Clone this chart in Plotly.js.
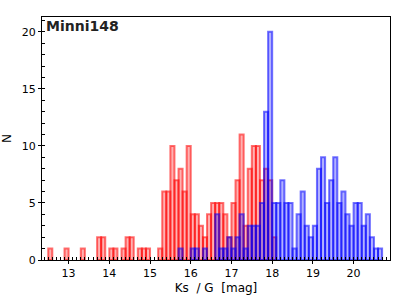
<!DOCTYPE html>
<html>
<head>
<meta charset="utf-8">
<script src="https://cdn.plot.ly/plotly-3.0.1.min.js"></script>
<style>
html,body{margin:0;padding:0;background:#fff;}
#chart{width:400px;height:300px;}
</style>
</head>
<body>
<div id="chart"></div>
<script>
// Bin centres (mag) and counts, bin width 0.1 mag
const redBins = [12.55,12.95,13.35,13.75,13.85,14.05,14.15,14.35,14.45,14.55,14.75,14.85,14.95,15.25,15.35,15.45,15.55,15.65,15.75,15.85,15.95,16.05,16.15,16.25,16.35,16.45,16.55,16.65,16.75,16.85,16.95,17.05,17.15,17.25,17.35,17.45,17.55,17.65,17.75,17.85,17.95,18.05];
const redCounts = [1,1,1,2,2,1,1,1,2,2,1,1,1,1,6,6,10,7,8,6,10,4,4,3,2,4,5,5,5,4,2,5,7,11,3,8,10,10,7,8,7,2];

const blueBins = [15.75,16.05,16.15,16.35,16.65,16.75,16.85,16.95,17.05,17.15,17.25,17.35,17.45,17.55,17.65,17.75,17.85,17.95,18.05,18.15,18.25,18.35,18.45,18.55,18.65,18.75,18.85,18.95,19.05,19.15,19.25,19.35,19.45,19.55,19.65,19.75,19.85,19.95,20.05,20.15,20.25,20.35,20.45,20.55,20.65];
const blueCounts = [1,1,1,1,4,1,1,2,1,2,4,1,3,3,3,5,13,20,5,5,7,5,5,1,4,6,3,2,3,8,9,5,7,9,5,6,4,3,5,5,3,4,2,1,1];

const binWidth = 0.1;
const xTickStep = 1;
const yTickStep = 5;
const titleText = 'Minni148';
const xTitleText = 'Ks\u00a0\u00a0/ G\u00a0\u00a0[mag]';
const yTitleText = 'N';

const traces = [
  {
    type: 'bar', x: redBins, y: redCounts, width: binWidth,
    marker: {color: 'rgba(255,0,0,0.3)', line: {color: 'rgba(255,0,0,0.55)', width: 2}},
    hoverinfo: 'none'
  },
  {
    type: 'bar', x: blueBins, y: blueCounts, width: binWidth,
    marker: {color: 'rgba(0,0,255,0.3)', line: {color: 'rgba(0,0,255,0.55)', width: 2}},
    hoverinfo: 'none'
  }
];

const fontFam = 'DejaVu Sans, Liberation Sans, sans-serif';

const layout = {
  width: 400, height: 300,
  margin: {l: 42, r: 10, t: 17, b: 40, pad: 0},
  paper_bgcolor: '#fff', plot_bgcolor: '#fff',
  barmode: 'overlay', bargap: 0,
  showlegend: false,
  font: {family: fontFam, size: 11, color: '#000'},
  xaxis: {
    range: [12.347, 20.894],
    tickmode: 'linear', tick0: 13, dtick: xTickStep,
    ticks: 'outside', ticklen: 3, tickwidth: 1, tickcolor: '#000',
    minor: {tick0: 0, dtick: 0.1, ticks: 'inside', ticklen: 3, tickwidth: 1, tickcolor: '#000', showgrid: false},
    showline: true, linecolor: '#000', linewidth: 1, mirror: true,
    showgrid: false, zeroline: false,
    tickfont: {family: fontFam, size: 11, color: '#000'},
    title: {text: xTitleText, font: {family: fontFam, size: 12, color: '#000'}, standoff: 4}
  },
  yaxis: {
    range: [0, 21.3],
    tickmode: 'linear', tick0: 0, dtick: yTickStep,
    ticks: 'outside', ticklen: 3, tickwidth: 1, tickcolor: '#000',
    minor: {tick0: 0, dtick: 1, ticks: 'inside', ticklen: 3, tickwidth: 1, tickcolor: '#000', showgrid: false},
    showline: true, linecolor: '#000', linewidth: 1, mirror: true,
    showgrid: false, zeroline: false,
    tickfont: {family: fontFam, size: 11, color: '#000'},
    title: {text: yTitleText, font: {family: fontFam, size: 12, color: '#000'}, standoff: 7}
  },
  annotations: [{
    text: '<b>' + titleText + '</b>',
    xref: 'paper', yref: 'paper', x: 0, y: 1,
    xanchor: 'left', yanchor: 'top', showarrow: false,
    xshift: 2, yshift: 1,
    font: {family: fontFam, size: 14, color: '#222'}
  }]
};

Plotly.newPlot('chart', traces, layout, {staticPlot: true, displayModeBar: false});
</script>
</body>
</html>
